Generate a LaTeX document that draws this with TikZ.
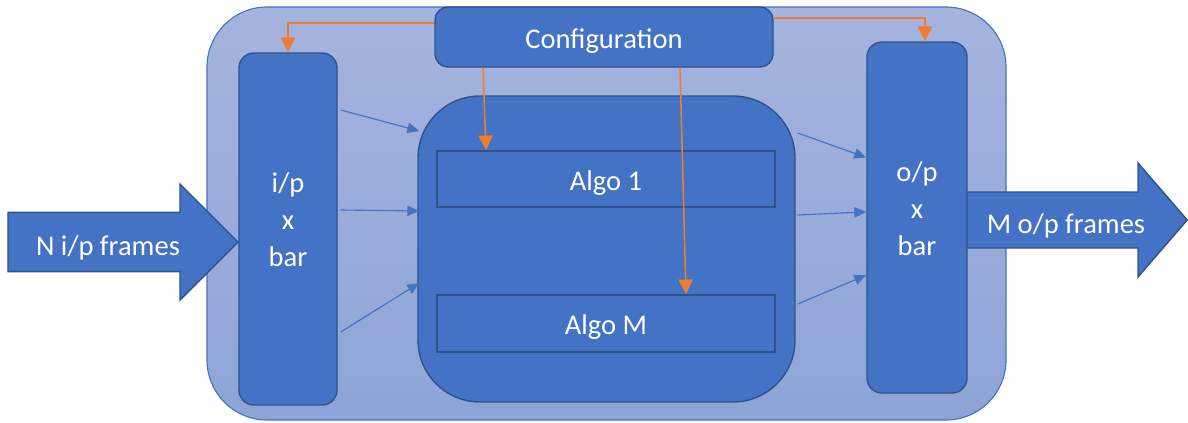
\documentclass[tikz,border=0pt]{standalone}
\usepackage{fontspec}
\setmainfont{Carlito}
\usetikzlibrary{arrows.meta,calc}
\definecolor{boxblue}{HTML}{4472C4}
\definecolor{boxline}{HTML}{2F528F}
\definecolor{outertop}{HTML}{A5B4DD}
\definecolor{outerbot}{HTML}{8EA4D8}
\definecolor{cfgorange}{HTML}{ED7D31}
\tikzset{
	blk/.style={draw=boxline, line width=1pt, fill=boxblue, inner sep=0pt},
	lbl/.style={text=white, align=center, font=\fontsize{20.3}{26.3}\selectfont},
	oneline/.style={text height=0.6cm, text depth=0.05cm},
	flow/.style={->, draw=boxblue, line width=0.8pt},
	cfg/.style={-{Triangle[length=0.37cm,width=0.36cm]}, draw=cfgorange, line width=1.1pt},
}
\begin{document}
\begin{tikzpicture}
		\tikzset{>={Triangle[length=0.3cm,width=0.26cm]}}
		\useasboundingbox (0,0) rectangle (29.7,10.55);
		\node[draw=boxblue, line width=0.8pt, rounded corners=1.5cm, top color=outertop, bottom color=outerbot, minimum width=19.975cm, minimum height=10.325cm] (outer) at (15.1625,5.2125) {};
		% big in/out arrows
		\draw[blk] (24.15,5.75) -- (28.45,5.75) -- (28.45,6.475) -- (29.68,5.05) -- (28.45,3.625) -- (28.45,4.35) -- (24.15,4.35) -- cycle;
		\draw[blk] (0.2,5.24) -- (4.5,5.24) -- (4.5,5.95) -- (5.95,4.5) -- (4.5,3.05) -- (4.5,3.76) -- (0.2,3.76) -- cycle;
		\node[blk, lbl, oneline, rounded corners=0.325cm, minimum width=8.45cm, minimum height=1.5cm] (config) at (15.1,9.625) {Configuration};
		\node[blk, rounded corners=0.375cm, minimum width=2.45cm, minimum height=8.8cm] (ip) at (7.2,4.825) {};
		\node[blk, rounded corners=0.375cm, minimum width=2.5cm, minimum height=8.775cm] (op) at (22.925,5.1125) {};
		\node[blk, rounded corners=1.55cm, minimum width=9.425cm, minimum height=7.65cm] (algo) at (15.1625,4.325) {};
		\node[blk, lbl, oneline, minimum width=8.45cm, minimum height=1.4cm] (algo1) at (15.15,6.075) {Algo 1};
		\node[blk, lbl, oneline, minimum width=8.45cm, minimum height=1.425cm] (algoM) at (15.15,2.4625) {Algo M};
		\node[lbl] (iptext) at (7.2,5.05) {i/p\\x\\bar};
		\node[lbl] (optext) at (22.925,5.33) {o/p\\x\\bar};
		\node[lbl, oneline] (nin) at (2.7,4.45) {N i/p frames};
		\node[lbl, oneline] (mout) at (26.65,5.0) {M o/p frames};
		\foreach \a/\b in {2.975/2.95, 0.475/0.95, -2.575/-0.85}
			\draw[flow] ($(ip.east)+(0.075,\a)$) -- ($(algo.west)+(0.05,\b)$);
		\foreach \a/\b in {2.9/1.5, 0.85/0.14, -1.375/-1.44}
			\draw[flow] ($(algo.east)+(0.05,\a)$) -- ($(op.west)+(0,\b)$);
		% configuration lines
		\draw[cfg] ($(config.west)+(0,0.35)$) -| (ip.north);
		\draw[cfg] ($(config.east)+(0,0.475)$) -| ($(op.north)+(0.2,0)$);
		\draw[cfg] ($(config.south)+(-3.025,0)$) -- ($(algo1.north)+(-3,0)$);
		\draw[cfg] ($(config.south)+(1.9,0)$) -- ($(algoM.north)+(2,0)$);
	    \end{tikzpicture}
\end{document}
